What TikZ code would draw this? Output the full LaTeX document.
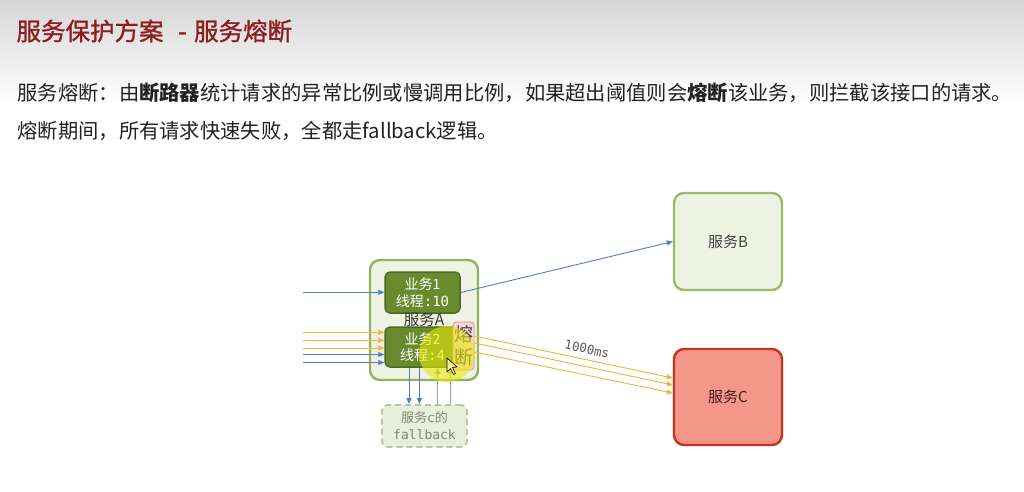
\documentclass[tikz,border=0pt]{standalone}
\usepackage{fontspec}
\setmainfont{Noto Sans CJK SC}
\newfontfamily\monof{DejaVu Sans Mono}
\newfontfamily\headfont{Noto Sans CJK SC}[FakeBold=1.2]
\usetikzlibrary{arrows.meta,calc}

\definecolor{hdrtop}{HTML}{D6D6D6}
\definecolor{titlered}{HTML}{8E1E1E}
\definecolor{bodytxt}{HTML}{222222}
\definecolor{agreen}{HTML}{93B05A}
\definecolor{afill}{HTML}{EEF2E3}
\definecolor{bizfill}{HTML}{6A8A30}
\definecolor{bizline}{HTML}{4E6A22}
\definecolor{bgreen}{HTML}{9CBA68}
\definecolor{cred}{HTML}{C8321E}
\definecolor{cfill}{HTML}{F4968A}
\definecolor{fusefill}{HTML}{FBD3D8}
\definecolor{fuseline}{HTML}{E3A2AA}
\definecolor{fbfill}{HTML}{E8EEDB}
\definecolor{fbline}{HTML}{B8C59E}
\definecolor{fbtxt}{HTML}{7C8A6C}
\definecolor{reqblue}{HTML}{4F7FC0}
\definecolor{reqyellow}{HTML}{F2B53A}
\definecolor{retgray}{HTML}{9AA58A}

\tikzset{
  svc/.style={draw, rounded corners=10pt, line width=2.4pt, align=center,
    font=\fontsize{15}{17}\selectfont, text=bodytxt!85},
  biz/.style={draw=bizline, fill=bizfill, rounded corners=5pt, line width=1.5pt,
    minimum width=75pt, minimum height=40pt, align=center, text=white,
    font=\fontsize{14}{16.5}\selectfont},
  tip/.style={-{Triangle[length=6pt,width=5pt]}},
  bluereq/.style={tip, draw=reqblue, line width=0.9pt},
  yelreq/.style={tip, draw=reqyellow, line width=0.9pt},
  fbret/.style={tip, draw=retgray, line width=0.9pt},
}

\begin{document}
\begin{tikzpicture}[x=1pt,y=-1pt]
\useasboundingbox (0,0) rectangle (1024,491);
\fill[white] (0,0) rectangle (1024,491);
\shade[top color=hdrtop, bottom color=white] (0,0) rectangle (1024,104);

% heading and explanation
\node[anchor=west, text=titlered, font=\headfont\fontsize{24.5}{27}\selectfont]
  (title) at (13,31) {服务保护方案\hspace{0.6em}-\hspace{0.3em}服务熔断};
\node[anchor=west, text=bodytxt, font=\fontsize{20.3}{24}\selectfont]
  (line1) at (14,93) {服务熔断：由\textbf{断路器}统计请求的异常比例或慢调用比例，如果超出阈值则会\textbf{熔断}该业务，则拦截该接口的请求。};
\node[anchor=west, text=bodytxt, font=\fontsize{20.3}{24}\selectfont]
  (line2) at (14,131) {熔断期间，所有请求快速失败，全都走fallback逻辑。};

% service A with its two business units
\node[svc, draw=agreen, fill=afill, minimum width=108pt, minimum height=120pt] (svcA) at (424,320) {};
\node[biz, minimum height=41pt] (biz1) at (422.5,292.5) {业务1\\线程{\monof :10}};
\node[biz] (biz2) at (422.5,347) {业务2\\线程{\monof :4}};
\node[font=\fontsize{15.5}{16}\selectfont, text=bodytxt!90] (labA) at (424,320) {服务A};
\node[draw=fuseline, fill=fusefill, rounded corners=3pt, line width=1pt,
  minimum width=21pt, minimum height=48pt, inner sep=0pt, align=center,
  font=\fontsize{19}{23}\selectfont, text=bodytxt!85] (fuse) at (463.5,346) {熔\\断};

% downstream services
\node[svc, draw=bgreen, fill=afill, minimum width=108pt, minimum height=97pt] (svcB) at (728,241.5) {服务B};
\node[svc, draw=cred, fill=cfill, minimum width=108pt, minimum height=96pt, text=bodytxt!80!red] (svcC) at (728,397) {服务C};

% fallback of service C
\node[draw=fbline, fill=fbfill, dashed, dash pattern=on 6pt off 4pt, rounded corners=6pt,
  line width=1.8pt, minimum width=85pt, minimum height=42pt, align=center, text=fbtxt,
  font=\fontsize{13}{17}\selectfont] (fb) at (424.5,426) {服务{\monof c}的\\{\monof fallback}};

% incoming requests
\coordinate (i0) at (303,292.3);
\coordinate (i1) at (303,332.3);
\coordinate (i2) at (303,340.3);
\coordinate (i3) at (303,348);
\coordinate (i4) at (303,354.5);
\coordinate (i5) at (303,362.5);
\draw[bluereq] (i0) -- (biz1.west |- i0);
\draw[yelreq] (i1) -- (biz2.west |- i1);
\draw[yelreq] (i2) -- (biz2.west |- i2);
\draw[yelreq] (i3) -- (biz2.west |- i3);
\draw[bluereq] (i4) -- (biz2.west |- i4);
\draw[bluereq] (i5) -- (biz2.west |- i5);

% business 1 calls service B
\draw[bluereq] (biz1.east) -- (svcB.west);

% business 2 calls to service C, now tripped
\draw[yelreq] ($(fuse.east)+(0,-10)$) -- ($(svcC.west)+(0,-19)$);
\draw[yelreq] ($(fuse.east)+(0,-3)$) -- ($(svcC.west)+(0,-12)$);
\draw[yelreq] ($(fuse.east)+(0,6)$) -- ($(svcC.west)+(0,-4)$);
\node[rotate=-11.8, text=bodytxt!75, font=\monof\fontsize{12.5}{14}\selectfont] (lat) at (587,349) {1000ms};

% calls routed to the fallback and their results
\coordinate (d1) at (409,0);
\coordinate (d2) at (419.5,0);
\coordinate (u1) at (437.7,0);
\coordinate (u2) at (450,0);
\draw[bluereq] (biz2.south -| d1) -- (fb.north -| d1);
\draw[bluereq] (biz2.south -| d2) -- (fb.north -| d2);
\draw[fbret] (fb.north -| u1) -- (biz2.south -| u1);
\draw[fbret] (fb.north -| u2) -- (biz2.south -| u2);

% pointer highlight
\fill[yellow!90!green, opacity=0.6] (447,354) circle (28);
\filldraw[fill=yellow!40, draw=black, line width=0.6pt, line join=round]
  (447,358) -- (447,372) -- (450.5,368.5) -- (453.5,374.5) -- (455.5,373.5) -- (452.5,367.5) -- (457,367) -- cycle;
\end{tikzpicture}
\end{document}
